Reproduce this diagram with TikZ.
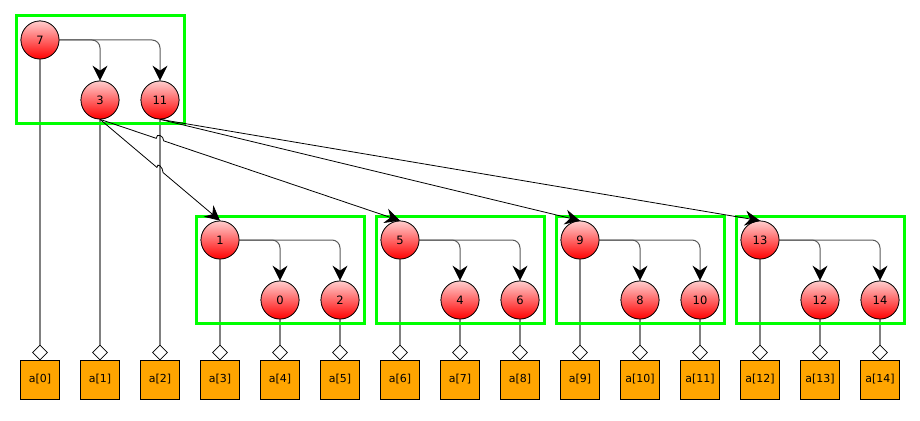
\documentclass[tikz,border=0pt]{standalone}
\usepackage{fontspec}
\setmainfont{DejaVu Sans}
\usetikzlibrary{arrows.meta,calc,shapes.geometric}
\definecolor{boxgreen}{RGB}{0,255,0}
\definecolor{arrorange}{RGB}{255,165,0}
\definecolor{stemgray}{RGB}{128,128,128}
\definecolor{inlinegray}{RGB}{90,90,90}
\definecolor{ballpink}{RGB}{255,205,205}
\begin{document}
\begin{tikzpicture}[x=1pt,y=-1pt,
  ball/.style={circle,draw=black,line width=0.7pt,minimum size=38pt,inner sep=0pt,
    top color=ballpink,bottom color=red,font=\fontsize{11.5}{13}\selectfont},
  cell/.style={rectangle,draw=black,line width=0.8pt,fill=arrorange,minimum size=39pt,inner sep=0pt,
    font=\fontsize{11}{12}\selectfont},
  port/.style={diamond,draw=black,line width=0.7pt,fill=white,minimum size=15pt,inner sep=0pt},
  stem/.style={draw=stemgray,line width=1.3pt},
  grp/.style={draw=boxgreen,line width=3pt},
  tip/.style={-{Stealth[length=15pt,width=15pt,inset=5pt,black,fill=black]}},
  inarrow/.style={tip,draw=inlinegray,line width=1pt,rounded corners=8pt},
  outarrow/.style={tip,draw=black,line width=0.8pt}
]
\fill[white] (0,0) rectangle (920,420);
\useasboundingbox (0,0) rectangle (920,420);

% array cells and ports
\foreach \i in {0,...,14}{
  \node[cell] (a\i) at ({40+60*\i},379.5) {a[\i]};
  \node[port] (d\i) at ({40+60*\i},352.5) {};
}

% tree nodes
\node[ball] (n7)  at (40,40)  {7};
\node[ball] (n3)  at (100,100) {3};
\node[ball] (n11) at (160,100) {11};
\node[ball] (n1)  at (220,240) {1};
\node[ball] (n0)  at (280,300) {0};
\node[ball] (n2)  at (340,300) {2};
\node[ball] (n5)  at (400,240) {5};
\node[ball] (n4)  at (460,300) {4};
\node[ball] (n6)  at (520,300) {6};
\node[ball] (n9)  at (580,240) {9};
\node[ball] (n8)  at (640,300) {8};
\node[ball] (n10) at (700,300) {10};
\node[ball] (n13) at (760,240) {13};
\node[ball] (n12) at (820,300) {12};
\node[ball] (n14) at (880,300) {14};

% stems
\foreach \n/\i in {7/0,3/1,11/2,1/3,0/4,2/5,5/6,4/7,6/8,9/9,8/10,10/11,13/12,12/13,14/14}{
  \draw[stem] (n\n.south) -- (d\i.north);
}

% green groups
\draw[grp] (16,16) rectangle (184,123);
\draw[grp] (196,216) rectangle (364,323);
\draw[grp] (376,216) rectangle (544,323);
\draw[grp] (556,216) rectangle (724,323);
\draw[grp] (736,216) rectangle (904,323);

% inner arrows
\foreach \p/\l/\r in {7/3/11,1/0/2,5/4/6,9/8/10,13/12/14}{
  \draw[inarrow] (n\p.east) -| (n\l.north);
  \draw[inarrow] (n\p.east) -| (n\r.north);
}

% redraw balls on top of stems
\foreach \n in {7,3,11,1,0,2,5,4,6,9,8,10,13,12,14}{
  \node[ball] at (n\n) {\n};
}

% cross arrows with hops over stem of 11
\coordinate (c1) at ($(n3.south)!0.5!(n1.north)$);
\coordinate (h1a) at ($(c1)!4pt!(n3.south)$);
\coordinate (h1b) at ($(c1)!4pt!(n1.north)$);
\draw[outarrow] (n3.south) -- (h1a) .. controls ($(h1a)+(0,-5.5)$) and ($(h1b)+(0,-5.5)$) .. (h1b) -- (n1.north);

\coordinate (c2) at ($(n3.south)!0.2!(n5.north)$);
\coordinate (h2a) at ($(c2)!4pt!(n3.south)$);
\coordinate (h2b) at ($(c2)!4pt!(n5.north)$);
\draw[outarrow] (n3.south) -- (h2a) .. controls ($(h2a)+(0,-5.5)$) and ($(h2b)+(0,-5.5)$) .. (h2b) -- (n5.north);

\draw[outarrow] (n11.south) -- (n9.north);
\draw[outarrow] (n11.south) -- (n13.north);
\end{tikzpicture}
\end{document}
